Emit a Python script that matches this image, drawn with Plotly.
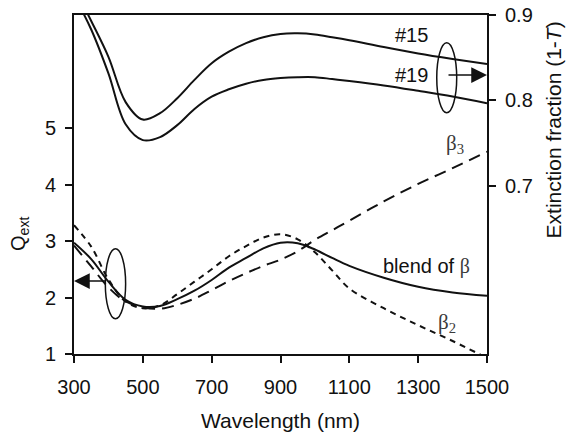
import plotly.graph_objects as go

# Wavelength grid (nm)
wavelength = [300, 350, 400, 450, 500, 550, 600, 650, 700, 750, 800, 850, 900,
              950, 1000, 1050, 1100, 1200, 1300, 1400, 1500]

# Extinction efficiency Q_ext (left axis)
q_blend = [2.97, 2.68, 2.28, 1.96, 1.84, 1.85, 1.97, 2.12, 2.31, 2.53, 2.70,
           2.87, 2.97, 2.96, 2.85, 2.70, 2.56, 2.35, 2.19, 2.09, 2.03]
q_beta2 = [3.28, 2.90, 2.32, 1.93, 1.81, 1.86, 2.06, 2.28, 2.50, 2.73, 2.91,
           3.06, 3.12, 3.03, 2.80, 2.48, 2.16, 1.81, 1.51, 1.23, 0.93]
q_beta3 = [2.92, 2.55, 2.18, 1.93, 1.83, 1.80, 1.87, 1.98, 2.13, 2.29, 2.43,
           2.56, 2.67, 2.82, 3.02, 3.19, 3.36, 3.70, 4.01, 4.29, 4.58]

# Measured extinction fraction 1-T (right axis)
ext_15 = [0.933, 0.893, 0.851, 0.798, 0.7775, 0.785, 0.8026, 0.824, 0.8435,
          0.857, 0.867, 0.874, 0.8778, 0.8785, 0.8772, 0.874, 0.8705, 0.8625,
          0.855, 0.8485, 0.8425]
ext_19 = [0.923, 0.883, 0.8316, 0.772, 0.7535, 0.757, 0.771, 0.790, 0.8044,
          0.813, 0.8195, 0.824, 0.8262, 0.8272, 0.8272, 0.825, 0.8227, 0.8175,
          0.8112, 0.8045, 0.7965]

x_ticks = [300, 500, 700, 900, 1100, 1300, 1500]
left_ticks = [1, 2, 3, 4, 5]
right_ticks = [0.7, 0.8, 0.9]

SANS = "Liberation Sans, Arial, sans-serif"
SERIF = "Liberation Serif"
INK = "#111111"

fig = go.Figure()

line_q = dict(color=INK, width=2, shape="spline", smoothing=1.0)
fig.add_trace(go.Scatter(x=wavelength, y=q_blend, mode="lines",
                         line=dict(line_q), name="blend"))
fig.add_trace(go.Scatter(x=wavelength, y=q_beta2, mode="lines",
                         line=dict(line_q, dash="6px,5px"), name="beta2"))
fig.add_trace(go.Scatter(x=wavelength, y=q_beta3, mode="lines",
                         line=dict(line_q, dash="12px,7px"), name="beta3"))
fig.add_trace(go.Scatter(x=wavelength, y=ext_15, mode="lines", yaxis="y2",
                         line=dict(line_q), name="#15"))
fig.add_trace(go.Scatter(x=wavelength, y=ext_19, mode="lines", yaxis="y2",
                         line=dict(line_q), name="#19"))

axis_common = dict(showline=True, linecolor=INK, linewidth=2, ticks="outside",
                   ticklen=7, tickwidth=2, tickcolor=INK, showgrid=False,
                   zeroline=False, automargin=False,
                   tickfont=dict(family=SANS, size=20, color=INK))

fig.update_layout(
    width=566, height=434,
    margin=dict(l=74, r=79, t=15, b=80),
    paper_bgcolor="white", plot_bgcolor="white",
    showlegend=False,
    xaxis=dict(axis_common, range=[300, 1500], tickvals=x_ticks, mirror=True,
               ticklabelstandoff=7),
    yaxis=dict(axis_common, range=[1, 7], tickvals=left_ticks,
               ticklabelstandoff=5),
    yaxis2=dict(axis_common, range=[0.503, 0.9], tickvals=right_ticks,
                ticktext=["0.7", "0.8", "0.9"], ticklabelstandoff=5,
                overlaying="y", side="right"),
)

# Grouping ellipses
fig.add_shape(type="circle", xref="x", yref="y2", x0=1354, x1=1412,
              y0=0.7855, y1=0.8675, line=dict(color=INK, width=1.5))
fig.add_shape(type="circle", xref="x", yref="y", x0=391, x1=450,
              y0=1.625, y1=2.864, line=dict(color=INK, width=1.5))

# Arrows pointing to the relevant axis
fig.add_annotation(x=1500, y=0.8297, xref="x", yref="y2", text="",
                   showarrow=True, ax=-40, ay=0, arrowhead=2, arrowsize=2.1,
                   arrowwidth=1.5, arrowcolor=INK)
fig.add_annotation(x=300, y=2.292, xref="x", yref="y", text="",
                   showarrow=True, ax=33, ay=0, arrowhead=2, arrowsize=2.1,
                   arrowwidth=1.5, arrowcolor=INK)

label_font = dict(family=SANS, size=20, color=INK)
beta_font = dict(family=SERIF, size=21, color="#3a3a3a")

fig.add_annotation(x=1281, y=0.8766, xref="x", yref="y2", text="#15",
                   showarrow=False, font=label_font)
fig.add_annotation(x=1281, y=0.8297, xref="x", yref="y2", text="#19",
                   showarrow=False, font=label_font)
fig.add_annotation(x=1456, y=2.545, xref="x", yref="y", xanchor="right",
                   text='blend of <span style="font-family:Liberation Serif;color:#3a3a3a">β</span>',
                   showarrow=False, font=label_font)
fig.add_annotation(x=1407, y=4.717, xref="x", yref="y",
                   text="β<sub>3</sub>", showarrow=False, font=beta_font)
fig.add_annotation(x=1384, y=1.549, xref="x", yref="y",
                   text="β<sub>2</sub>", showarrow=False, font=beta_font)

# Axis titles
fig.add_annotation(x=-0.1308, y=0.354, xref="paper", yref="paper",
                   xanchor="center", yanchor="middle",
                   text="Q<sub>ext</sub>", textangle=-90, showarrow=False,
                   font=dict(family=SANS, size=20, color=INK))
fig.add_annotation(x=0.5, y=-0.1947, xref="paper", yref="paper",
                   xanchor="center", yanchor="middle",
                   text="Wavelength (nm)", showarrow=False,
                   font=dict(family=SANS, size=21, color=INK))
fig.add_annotation(x=1.161, y=0.661, xref="paper", yref="paper",
                   xanchor="center", yanchor="middle",
                   text="Extinction fraction (1-<i>T</i>)", textangle=-90,
                   showarrow=False, font=dict(family=SANS, size=21, color=INK))

fig.write_html("out.html")
